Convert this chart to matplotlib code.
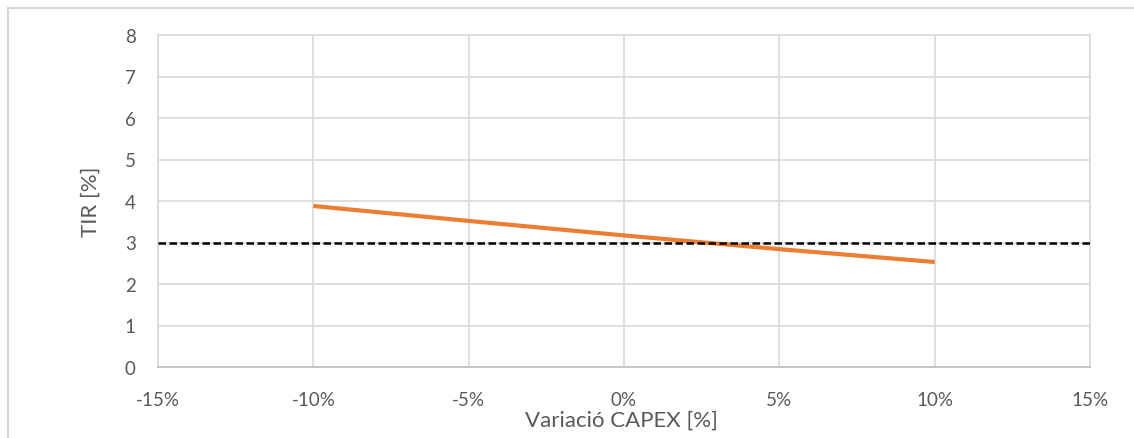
import matplotlib
matplotlib.use("Agg")
import matplotlib.pyplot as plt
from matplotlib.patches import Rectangle
from matplotlib.ticker import FuncFormatter, MultipleLocator

# CAPEX variation [%] and resulting IRR [%]
capex_var = [-10, -5, 0, 5, 10]
tir = [3.88, 3.52, 3.17, 2.84, 2.53]
tir_threshold = 3.0

x_limits = (-15, 15)
y_limits = (0, 8)

plt.rcParams["font.family"] = ["Lato", "DejaVu Sans"]

fig = plt.figure(figsize=(11.34, 4.39), dpi=100)
fig.patch.set_facecolor("white")

# light chart-area border like the spreadsheet frame
fig.patches.append(Rectangle((8 / 1134, -0.1), 1.2, (439 - 9) / 439 + 0.1,
                             transform=fig.transFigure, fill=False,
                             edgecolor="#D9D9D9", linewidth=1.5, zorder=0))

ax = fig.add_axes([158 / 1134, (439 - 368) / 439, 932 / 1134, 332 / 439])

ax.plot(capex_var, tir, color="#ED7D31", linewidth=3, solid_capstyle="butt", zorder=3)
ax.axhline(tir_threshold, color="black", linewidth=1.8, linestyle=(0, (3, 1.4)), zorder=4)

ax.set_xlim(*x_limits)
ax.set_ylim(*y_limits)
ax.xaxis.set_major_locator(MultipleLocator(5))
ax.yaxis.set_major_locator(MultipleLocator(1))
ax.xaxis.set_major_formatter(FuncFormatter(lambda v, p: f"{v:.0f}%"))

ax.grid(True, color="#D9D9D9", linewidth=1.2)
ax.set_axisbelow(True)
for s in ax.spines.values():
    s.set_color("#D9D9D9")
    s.set_linewidth(1.2)
ax.spines["bottom"].set_color("#BFBFBF")

ax.tick_params(axis="both", length=0, labelsize=13.5, colors="#595959")
ax.tick_params(axis="y", pad=16)
ax.tick_params(axis="x", pad=17)

ax.set_xlabel("Variació CAPEX [%]", fontsize=16, color="#595959")
ax.set_ylabel("TIR [%]", fontsize=16, color="#595959")
ax.xaxis.set_label_coords(0.497, -0.128)
ax.yaxis.set_label_coords(-0.062, 0.5)

fig.savefig("out.png", dpi=100)
